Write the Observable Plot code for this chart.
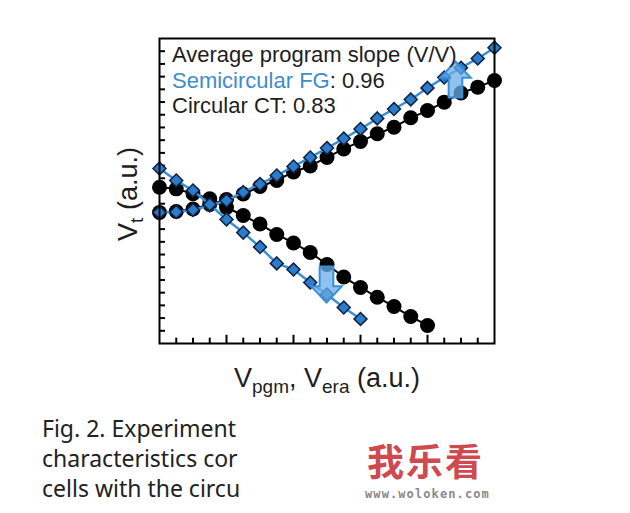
<!DOCTYPE html>
<html>
<head>
<meta charset="utf-8">
<script src="https://cdn.jsdelivr.net/npm/d3@7"></script>
<script src="https://cdn.jsdelivr.net/npm/@observablehq/plot@0.6"></script>
<style>
  html, body { margin: 0; padding: 0; background: #fff; }
  #wrap { position: relative; width: 630px; height: 513px; overflow: hidden; }
  #chart svg { display: block; }
  .caption { position: absolute; left: 42px; top: 413px; font-family: "Noto Sans", sans-serif; font-size: 23px; line-height: 30px; color: #222; white-space: pre; }
  .wm { position: absolute; left: 367px; top: 441px; font-family: "Noto Sans CJK SC", sans-serif; font-weight: 700; font-size: 37px; color: #cf4a4f; letter-spacing: 2px; line-height: 38px; }
  .wm2 { position: absolute; left: 365px; top: 487px; font-family: "DejaVu Sans Mono", monospace; font-weight: 700; font-size: 12px; line-height: 14px; color: #8a8a8a; letter-spacing: 1.1px; }
</style>
</head>
<body>
<div id="wrap">
  <div id="chart"></div>
  <div class="caption" id="caption"></div>
  <div class="wm" id="wm"></div>
  <div class="wm2" id="wm2"></div>
</div>
<script>
// ---- data (a.u.) ----
const programSteps = [0,1,2,3,4,5,6,7,8,9,10,11,12,13,14,15,16,17,18,19,20];
const fgProgram = [10.31,10.35,10.51,10.86,11.25,11.91,12.55,13.22,13.93,14.64,15.38,16.13,16.88,17.71,18.45,19.20,20.11,20.93,21.70,22.43,23.27];
const ctProgram = [10.31,10.39,10.58,10.94,11.33,11.76,12.35,12.83,13.50,13.97,14.64,15.31,15.90,16.50,17.02,17.76,18.33,18.99,19.71,20.17,20.70];

const fgEraseSteps = [0,1,2,3,4,5,6,7,8,9,10,11,12];
const fgErase = [13.77,12.83,12.04,10.94,9.76,8.73,7.59,6.30,5.82,4.80,3.86,2.83,1.93];
const ctEraseSteps = [0,1,2,3,4,5,6,7,8,9,10,11,12,13,14,15,16];
const ctErase = [12.30,12.17,11.78,11.39,10.70,10.07,9.40,8.58,7.91,7.16,6.22,5.23,4.41,3.64,2.91,2.12,1.42];

const arrowX = [17.67, 9.97];
const arrowY = [20.77, 4.64];
const arrowDir = ["up", "down"];

const xMinorTicks = [1,2,3,5,6,7,9,10,11,13,14,15,17,18,19];
const xMajorTicks = [4,8,12,16];
const yTicks = [1,2,3,4,5,6,7,8,9,10,11,12,13,14,15,16,17,18,19,20,21,22,23];

const legendTitle = "Average program slope (V/V)";
const legendSeries = ["Semicircular FG", "Circular CT"];
const legendSlopes = ["0.96", "0.83"];

const xLabelParts = ["V", "pgm", ", V", "era", " (a.u.)"];
const yLabelParts = ["V", "t", " (a.u.)"];

const captionLines = ["Fig. 2. Experiment", "characteristics cor", "cells with the circu"];
const watermark = ["我乐看", "www.woloken.com"];

// ---- build tables ----
const zipS = (xs, ys, s) => xs.map((x, i) => ({x, y: ys[i], series: s}));
const fgProg = zipS(programSteps, fgProgram, "FG");
const ctProg = zipS(programSteps, ctProgram, "CT");
const fgEr = zipS(fgEraseSteps, fgErase, "FG");
const ctEr = zipS(ctEraseSteps, ctErase, "CT");
const arrows = arrowX.map((x, i) => ({x, y: arrowY[i], dir: arrowDir[i]}));

function arrowSymbol(sign) {
  return {
    draw(context, size) {
      const r = Math.sqrt(size / Math.PI);
      const s = sign;
      context.moveTo(0, -r * s);
      context.lineTo(0.85 * r, -0.1 * r * s);
      context.lineTo(0.38 * r, -0.1 * r * s);
      context.lineTo(0.38 * r, r * s);
      context.lineTo(-0.38 * r, r * s);
      context.lineTo(-0.38 * r, -0.1 * r * s);
      context.lineTo(-0.85 * r, -0.1 * r * s);
      context.closePath();
    }
  };
}

const blue = "#3a8fd6";
const diamondFill = "#2c7ccc";
const diamondStroke = "#0f2444";

const W = 630, H = 405;
const mL = 159, mR = 136, mT = 38, mB = 62;

const chart = Plot.plot({
  width: W, height: H,
  marginLeft: mL, marginRight: mR, marginTop: mT, marginBottom: mB,
  x: {domain: [0, 20], axis: null},
  y: {domain: [0, 24], axis: null},
  style: {background: "white"},
  marks: [
    Plot.ruleX(xMinorTicks, {x: d => d, y1: 0, y2: 0.42, stroke: "black", strokeWidth: 2}),
    Plot.ruleX(xMajorTicks, {x: d => d, y1: 0, y2: 0.65, stroke: "black", strokeWidth: 2}),
    Plot.ruleY(yTicks, {y: d => d, x1: 0, x2: 0.36, stroke: "black", strokeWidth: 2}),
    // Circular CT
    Plot.line(ctProg, {x: "x", y: "y", stroke: "black", strokeWidth: 2}),
    Plot.line(ctEr, {x: "x", y: "y", stroke: "black", strokeWidth: 2}),
    Plot.dot(ctProg, {x: "x", y: "y", r: 7.5, fill: "black"}),
    Plot.dot(ctEr, {x: "x", y: "y", r: 7.5, fill: "black"}),
    // Semicircular FG
    Plot.line(fgProg, {x: "x", y: "y", stroke: blue, strokeWidth: 2.5}),
    Plot.line(fgEr, {x: "x", y: "y", stroke: blue, strokeWidth: 2.5}),
    Plot.dot(fgProg, {x: "x", y: "y", r: 5.8, symbol: "diamond2", fill: diamondFill, stroke: diamondStroke, strokeWidth: 1.6}),
    Plot.dot(fgEr, {x: "x", y: "y", r: 5.8, symbol: "diamond2", fill: diamondFill, stroke: diamondStroke, strokeWidth: 1.6}),
    // arrows
    Plot.dot(arrows.filter(d => d.dir === "up"), {x: "x", y: "y", r: 18, symbol: arrowSymbol(1), fill: "#6aaee8", fillOpacity: 0.75, stroke: "#3a8fdc", strokeWidth: 2}),
    Plot.dot(arrows.filter(d => d.dir === "down"), {x: "x", y: "y", r: 18, symbol: arrowSymbol(-1), fill: "#6aaee8", fillOpacity: 0.75, stroke: "#3a8fdc", strokeWidth: 2}),
    Plot.frame({stroke: "black", strokeWidth: 2})
  ]
});
document.getElementById("chart").appendChild(chart);

// ---- text overlays inside the svg ----
const svg = d3.select(chart);
const font = "'Liberation Sans', Arial, sans-serif";
const legend = svg.append("g").attr("font-family", font).attr("font-size", 22).attr("fill", "#1e1e1e").attr("text-anchor", "start");
legend.append("text").attr("x", 172).attr("y", 62).attr("text-anchor", "start").text(legendTitle);
const l2 = legend.append("text").attr("x", 172).attr("y", 87.5).attr("text-anchor", "start");
l2.append("tspan").attr("fill", "#3f8ccb").text(legendSeries[0]);
l2.append("tspan").text(": " + legendSlopes[0]);
legend.append("text").attr("x", 172).attr("y", 113).attr("text-anchor", "start").text(legendSeries[1] + ": " + legendSlopes[1]);

const xl = svg.append("text").attr("x", 327).attr("y", 387).attr("text-anchor", "middle")
  .attr("font-family", font).attr("font-size", 27).attr("fill", "#1e1e1e");
xl.append("tspan").text(xLabelParts[0]);
xl.append("tspan").attr("font-size", 19).attr("dy", 6).text(xLabelParts[1]);
xl.append("tspan").attr("dy", -6).text(xLabelParts[2]);
xl.append("tspan").attr("font-size", 19).attr("dy", 6).text(xLabelParts[3]);
xl.append("tspan").attr("dy", -6).text(xLabelParts[4]);

const yl = svg.append("text").attr("transform", "translate(137,194) rotate(-90)").attr("text-anchor", "middle")
  .attr("font-family", font).attr("font-size", 27).attr("fill", "#1e1e1e");
yl.append("tspan").text(yLabelParts[0]);
yl.append("tspan").attr("font-size", 19).attr("dy", 6).text(yLabelParts[1]);
yl.append("tspan").attr("dy", -6).text(yLabelParts[2]);

document.getElementById("caption").textContent = captionLines.join("\n");
document.getElementById("wm").textContent = watermark[0];
document.getElementById("wm2").textContent = watermark[1];
</script>
</body>
</html>
